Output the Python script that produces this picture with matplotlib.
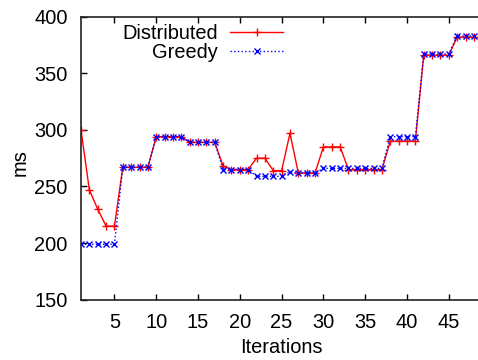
import numpy as np
import matplotlib.pyplot as plt

plt.rcParams['font.family'] = ['Liberation Sans', 'DejaVu Sans']

iterations = np.arange(1, 49)
distributed = [300, 247, 230, 215, 215, 267, 267, 267, 267, 294, 294, 294, 294,
               289, 289, 289, 289, 268, 265, 265, 265, 275, 275, 264, 264, 297,
               262, 262, 262, 285, 285, 285, 265, 265, 265, 265, 265, 290, 290,
               290, 290, 366, 366, 366, 366, 382, 382, 382]
greedy = [199, 199, 199, 199, 199, 267, 267, 267, 267, 294, 294, 294, 294,
          289, 289, 289, 289, 265, 265, 265, 265, 259, 259, 259, 259, 263,
          262, 262, 262, 266, 266, 266, 266, 266, 266, 266, 266, 294, 294,
          294, 294, 367, 367, 367, 367, 383, 383, 383]

W, H = 478, 360
fig = plt.figure(figsize=(W / 100, H / 100), dpi=100)
# axes runs past the right edge of the picture, like the original crop
ax = fig.add_axes([81 / W, (H - 299.7) / H, (490.6 - 81) / W, (299.7 - 16.7) / H])

fs = 14.4
ax.plot(iterations, distributed, color='#ff0000', linewidth=1.0, marker='+',
        markersize=5.5, markeredgewidth=1.0, label='Distributed')
ax.plot(iterations, greedy, color='#0000ff', linewidth=1.0, linestyle=':',
        marker='x', markersize=3.8, markeredgewidth=1.0, label='Greedy')

ax.set_xlim(1, 50)
ax.set_ylim(150, 400)
ax.set_xticks([5, 10, 15, 20, 25, 30, 35, 40, 45])
ax.set_yticks([150, 200, 250, 300, 350, 400])
ax.tick_params(direction='in', length=4, width=1, top=True, right=True,
               labelsize=fs)
ax.tick_params(axis='y', pad=9.5)
ax.tick_params(axis='x', pad=9.5)
for s in ax.spines.values():
    s.set_linewidth(1.2)
    s.set_color('#222222')

ax.set_xlabel('Iterations', fontsize=fs)
ax.set_ylabel('ms', fontsize=fs)
ax.xaxis.set_label_coords((281.7 - 81) / 409.6, -0.135)
ax.yaxis.set_label_coords(-(81 - 30) / 409.6, (299.7 - 163) / 283)

ax.legend(loc='upper right', bbox_to_anchor=(283 / W, 1 - 24 / H),
          bbox_transform=fig.transFigure, frameon=False, markerfirst=False,
          fontsize=fs, handlelength=2.65, handletextpad=0.6,
          labelspacing=0.0, borderpad=0, borderaxespad=0)

fig.savefig('out.png', dpi=100)
